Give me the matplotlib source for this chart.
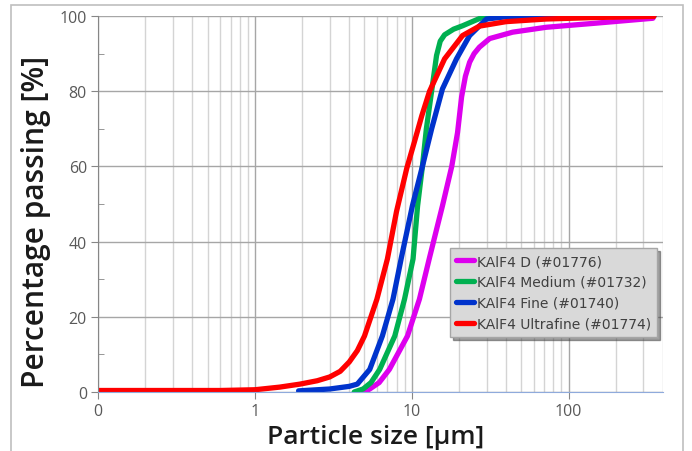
import numpy as np
import matplotlib
matplotlib.use("Agg")
import matplotlib.pyplot as plt
from matplotlib.patches import Rectangle
from matplotlib.ticker import FixedLocator, FixedFormatter, NullFormatter

plt.rcParams['font.family'] = ['Open Sans', 'DejaVu Sans']

# particle size [um] / percentage passing [%]
d_x = [5.0, 5.4, 6.2, 7.2, 9.4, 11.2, 13.0, 15.7, 18.0, 19.6, 20.8, 22.0, 23.4, 25.0, 27, 31.4, 44, 72, 150, 345]
d_y = [0, 0.8, 2.5, 6.0, 14.9, 24.7, 35.8, 49.5, 60, 69, 78.5, 84, 87.7, 90, 91.7, 94.0, 95.7, 97, 98.1, 99.4]

medium_x = [4.3, 4.9, 5.5, 6.25, 7.8, 9.0, 10.2, 10.9, 11.7, 12.4, 13.6, 14.4, 15.2, 16.2, 18.5, 21.1, 28.4, 40,
            100, 350]
medium_y = [0, 0.8, 2.5, 6.0, 14.9, 24.7, 35.4, 49.5, 60, 70, 82, 89.5, 93.3, 95.0, 96.5, 97.4, 99.7, 100,
            100, 100]

fine_x = [1.9, 3.0, 4.0, 4.5, 5.4, 6.5, 7.6, 8.6, 10.1, 11.7, 13.4, 15.7, 19.3, 23.4, 30, 40, 100, 350]
fine_y = [0.3, 0.8, 1.5, 2.1, 6.0, 14.9, 24.7, 35.8, 49.5, 60, 70, 80.6, 88.6, 94.8, 99.2, 99.8, 100, 100]

ultra_x = [0.1, 0.3, 0.6, 1.0, 1.44, 1.94, 2.5, 3.0, 3.5, 4.0, 4.5, 5.0, 6.0, 7.0, 8.0, 9.3, 10.4, 11.6,
           13.0, 16.2, 21.1, 27, 40, 72, 150, 350]
ultra_y = [0.4, 0.4, 0.4, 0.6, 1.3, 2.1, 3.0, 4.0, 5.5, 8.0, 11.0, 14.9, 24.7, 35.4, 48, 59.5, 66.5, 73.5,
           80.0, 88.6, 94.8, 97.3, 98.5, 99.2, 99.6, 99.9]

labels = ['KAlF4 D (#01776)', 'KAlF4 Medium (#01732)', 'KAlF4 Fine (#01740)', 'KAlF4 Ultrafine (#01774)']
colors = ['#dd00ee', '#00b050', '#0033cc', '#ff0000']

x_ticks = [0.1, 1, 10, 100]
x_ticklabels = ['0', '1', '10', '100']

fig = plt.figure(figsize=(6.92, 4.52), dpi=100)
fig.patches.append(Rectangle((11 / 692, -0.01), 672 / 692, 1 - 6 / 452 + 0.01, transform=fig.transFigure,
                             fill=False, edgecolor='#bfbfbf', linewidth=1.2))
ax = fig.add_axes([98 / 692, 1 - 393 / 452, 565 / 692, 376 / 452])

series = [(d_x, d_y), (medium_x, medium_y), (fine_x, fine_y), (ultra_x, ultra_y)]
for (xs, ys), lab, col in zip(series, labels, colors):
    ax.plot(xs, ys, color=col, lw=3.8, label=lab, solid_joinstyle='round', solid_capstyle='round')

ax.set_xscale('log')
ax.set_xlim(0.1, 400)
ax.set_ylim(0, 100)

ax.xaxis.set_major_locator(FixedLocator(x_ticks))
ax.xaxis.set_major_formatter(FixedFormatter(x_ticklabels))
minor = [m * 10.0 ** e for e in range(-1, 3) for m in range(2, 10) if m * 10.0 ** e <= 400]
ax.xaxis.set_minor_locator(FixedLocator(minor))
ax.xaxis.set_minor_formatter(NullFormatter())
ax.set_yticks(range(0, 101, 20))
ax.set_yticks(range(10, 100, 20), minor=True)

ax.grid(which='major', color='#a6a6a6', lw=1.0)
ax.grid(which='minor', axis='x', color='#d4d4d4', lw=1.0)
ax.set_axisbelow(True)

for s in ['top', 'right']:
    ax.spines[s].set_visible(False)
ax.spines['left'].set_color('#868686')
ax.spines['bottom'].set_color('#8faadc')

ax.tick_params(axis='both', which='major', direction='out', length=5, color='#868686',
               labelsize=11.5, labelcolor='#595959', pad=3)
ax.tick_params(axis='x', which='minor', length=0)
ax.tick_params(axis='y', which='minor', direction='in', length=4, color='#868686')

ax.set_xlabel('Particle size [µm]', fontsize=19, fontweight='semibold', color='#1a1a1a')
ax.set_ylabel('Percentage passing [%]', fontsize=21.5, fontweight='semibold', color='#1a1a1a')
ax.xaxis.set_label_coords(0.492, -0.085)
ax.yaxis.set_label_coords(-0.084, 0.455)

leg = ax.legend(loc='lower left', bbox_to_anchor=(0.623, 0.146), borderaxespad=0, frameon=True,
                prop={'family': 'DejaVu Sans', 'size': 10}, fancybox=False, shadow=True,
                handlelength=1.3, handletextpad=0.2, labelspacing=0.5, borderpad=0.45,
                labelcolor='#404040')
leg.get_frame().set_facecolor('#d9d9d9')
leg.get_frame().set_edgecolor('#a6a6a6')
leg.get_frame().set_alpha(1)

fig.savefig('out.png', dpi=100)
